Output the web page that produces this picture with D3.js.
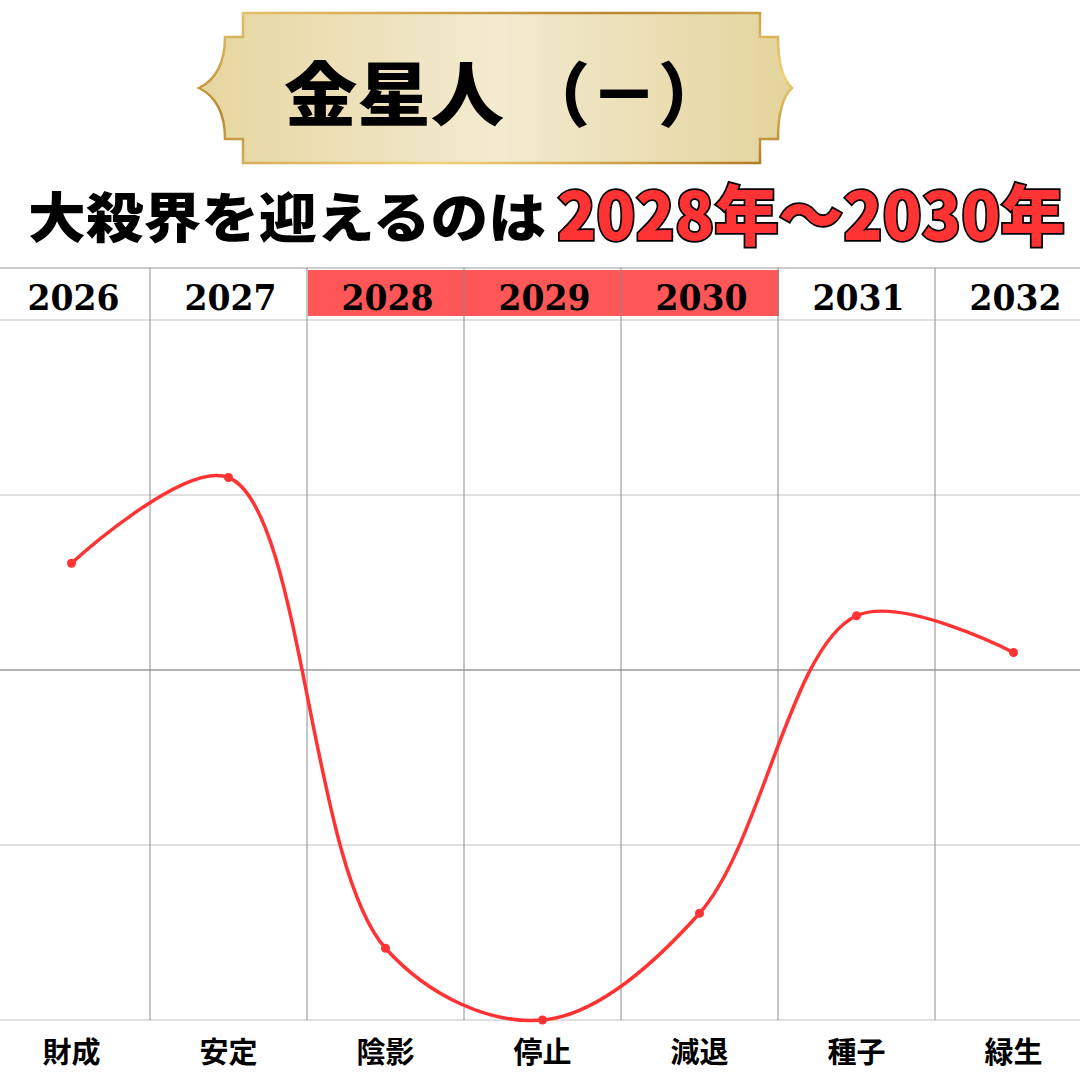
<!DOCTYPE html>
<html>
<head>
<meta charset="utf-8">
<script src="https://cdn.jsdelivr.net/npm/d3@7"></script>
<style>
  body{margin:0;background:#fff;}
  svg{display:block;}
</style>
</head>
<body>
<svg width="1080" height="1080"></svg>
<script>
// データ
const years=['2026','2027','2028','2029','2030','2031','2032'];
const labels=['財成','安定','陰影','停止','減退','種子','緑生'];
const values=[2.61,3.10,0.41,0.0,0.61,2.31,2.10];
const badYears=['2028','2029','2030'];
const yTicks=[0,1,2,3,4];
const titleMain='金星人';
const titleSign='（－）';
const subText='大殺界を迎えるのは';
const subRed='2028年〜2030年';

const svg=d3.select('svg');
const W=+svg.attr('width');

const x=d3.scaleBand().domain(years).range([-7,1092]).padding(0);
const y=d3.scaleLinear().domain([0,4]).range([1020,320]);
const cx=d => x(d)+x.bandwidth()/2;

const defs=svg.append('defs');
const g1=defs.append('linearGradient').attr('id','gold');
[['0%','#e6d6a0'],['50%','#f3ead0'],['100%','#e4d49c']].forEach(s=>g1.append('stop').attr('offset',s[0]).attr('stop-color',s[1]));
const g2=defs.append('linearGradient').attr('id','goldEdge').attr('x1','0').attr('y1','0').attr('x2','1').attr('y2','1');
[['0%','#e8c870'],['35%','#b8862e'],['70%','#f0d27a'],['100%','#a8741e']].forEach(s=>g2.append('stop').attr('offset',s[0]).attr('stop-color',s[1]));

// タイトルの枠
const bx0=243,bx1=760,by0=13,by1=163;
const banner=d3.path();
banner.moveTo(bx0,by0);
banner.lineTo(bx1,by0);
banner.lineTo(bx1,37);
banner.lineTo(778,37);
banner.quadraticCurveTo(778,75,792,88);
banner.quadraticCurveTo(778,101,778,139);
banner.lineTo(bx1,139);
banner.lineTo(bx1,by1);
banner.lineTo(bx0,by1);
banner.lineTo(bx0,139);
banner.lineTo(225,139);
banner.quadraticCurveTo(225,101,199,88);
banner.quadraticCurveTo(225,75,225,37);
banner.lineTo(bx0,37);
banner.closePath();
svg.append('path').attr('d',banner.toString())
  .attr('fill','url(#gold)').attr('stroke','url(#goldEdge)').attr('stroke-width',2.5);

svg.append('text').attr('x',284).attr('y',121)
  .attr('font-family','"Noto Sans CJK JP"').attr('font-weight',900)
  .attr('font-size',70).attr('fill','#000')
  .attr('textLength',220).attr('lengthAdjust','spacingAndGlyphs')
  .text(titleMain);
svg.append('text').attr('x',522).attr('y',121)
  .attr('font-family','"Noto Sans CJK JP"').attr('font-weight',900)
  .attr('font-size',70).attr('fill','#000')
  .attr('textLength',204).attr('lengthAdjust','spacingAndGlyphs')
  .text(titleSign);

// サブタイトル
svg.append('text').attr('x',28).attr('y',238)
  .attr('font-family','"Noto Sans CJK JP"').attr('font-weight',900)
  .attr('font-size',54).attr('fill','#000')
  .attr('textLength',518).attr('lengthAdjust','spacingAndGlyphs')
  .text(subText);
svg.append('text').attr('x',557).attr('y',240)
  .attr('font-family','"Noto Sans CJK JP"').attr('font-weight',900)
  .attr('font-size',66).attr('fill','#ff3333')
  .attr('stroke','#000').attr('stroke-width',3.5).attr('paint-order','stroke')
  .attr('textLength',508).attr('lengthAdjust','spacingAndGlyphs')
  .text(subRed);

// 大殺界の年のハイライト
svg.selectAll('rect.bad').data(badYears).join('rect')
  .attr('class','bad')
  .attr('x',d=>x(d)+1).attr('y',270)
  .attr('width',x.bandwidth()).attr('height',46)
  .attr('fill','#ff5757');

// グリッド
svg.append('line').attr('x1',0).attr('x2',W).attr('y1',268).attr('y2',268)
  .attr('stroke','#bbb').attr('stroke-width',1.5);
svg.selectAll('line.h').data(yTicks).join('line')
  .attr('class','h')
  .attr('x1',0).attr('x2',W)
  .attr('y1',d=>y(d)).attr('y2',d=>y(d))
  .attr('stroke',d=>d==2?'#999':'#d6d6d6').attr('stroke-width',1.5);
svg.selectAll('line.v').data(years.slice(1)).join('line')
  .attr('class','v')
  .attr('x1',d=>x(d)).attr('x2',d=>x(d))
  .attr('y1',268).attr('y2',1020)
  .attr('stroke','#8c8c8c').attr('stroke-width',1);

// 年
svg.selectAll('text.year').data(years).join('text')
  .attr('class','year')
  .attr('x',d=>cx(d)+2).attr('y',310)
  .attr('text-anchor','middle')
  .attr('font-family','"DejaVu Serif"').attr('font-weight','bold')
  .attr('font-size',36).attr('fill','#000')
  .attr('textLength',92).attr('lengthAdjust','spacingAndGlyphs')
  .text(d=>d);

// 線
const line=d3.line()
  .x((d,i)=>cx(years[i]))
  .y(d=>y(d))
  .curve(d3.curveCatmullRom.alpha(0.5));
svg.append('path').attr('d',line(values))
  .attr('fill','none').attr('stroke','#ff3333').attr('stroke-width',3.5);
svg.selectAll('circle').data(values).join('circle')
  .attr('cx',(d,i)=>cx(years[i])).attr('cy',d=>y(d))
  .attr('r',4.5).attr('fill','#ff3333');

// 下のラベル
svg.selectAll('text.lab').data(labels).join('text')
  .attr('class','lab')
  .attr('x',(d,i)=>cx(years[i])).attr('y',1063)
  .attr('text-anchor','middle')
  .attr('font-family','"Noto Sans CJK JP"').attr('font-weight',700)
  .attr('font-size',29).attr('fill','#000')
  .text(d=>d);
</script>
</body>
</html>
